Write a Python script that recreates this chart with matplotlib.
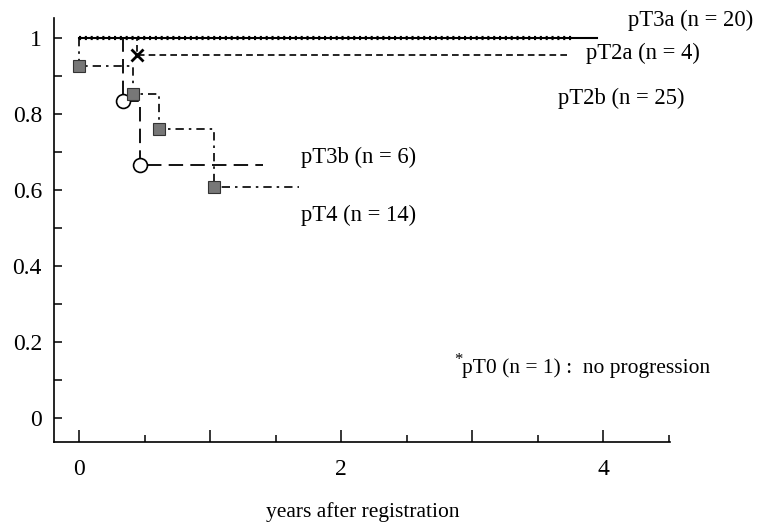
import matplotlib
matplotlib.use("Agg")
import matplotlib.pyplot as plt

plt.rcParams['font.family'] = ['Liberation Serif', 'DejaVu Serif']

# Kaplan-Meier step data (years, progression-free rate)
pT3a_t = [0, 3.95]
pT3a_s = [1.0, 1.0]

pT2b_t = [0, 3.76]
pT2b_s = [1.0, 1.0]

pT2a_t = [0, 0.44, 3.74]
pT2a_s = [1.0, 0.955, 0.955]
pT2a_ev_t = [0.44]
pT2a_ev_s = [0.955]

pT3b_t = [0, 0.33, 0.46, 1.40]
pT3b_s = [1.0, 0.833, 0.667, 0.667]
pT3b_ev_t = [0.33, 0.46]
pT3b_ev_s = [0.833, 0.667]

pT4_t = [0, 0, 0.41, 0.61, 1.03, 1.68]
pT4_s = [1.0, 0.926, 0.853, 0.76, 0.607, 0.607]
pT4_ev_t = [0, 0.41, 0.61, 1.03]
pT4_ev_s = [0.926, 0.853, 0.76, 0.607]

labels = ['pT3a (n = 20)', 'pT2a (n = 4)', 'pT2b (n = 25)', 'pT3b (n = 6)', 'pT4 (n = 14)']
label_x = [4.19, 3.87, 3.65, 1.69, 1.69]
label_y = [1.047, 0.96, 0.842, 0.687, 0.534]

fig = plt.figure(figsize=(7.66, 5.25), dpi=100)
ax = fig.add_axes([0.071, 0.158, 0.804, 0.808])

ax.step(pT3a_t, pT3a_s, where='post', color='black', lw=1.5)
ax.step(pT2b_t, pT2b_s, where='post', color='black', lw=3, ls=(0, (0.5, 0.9)))

ax.step(pT2a_t, pT2a_s, where='post', color='black', lw=1.2, ls=(0, (4, 2.5)))
ax.plot(pT2a_ev_t, pT2a_ev_s, 'x', color='black', ms=8, mew=2)

ax.step(pT3b_t, pT3b_s, where='post', color='black', lw=1.3, ls=(0, (8, 4)))
ax.plot(pT3b_ev_t, pT3b_ev_s, 'o', mfc='white', mec='black', ms=10, mew=1.2)

ax.step(pT4_t, pT4_s, where='post', color='black', lw=1.2, ls=(0, (5, 3, 1.5, 3)))
ax.plot(pT4_ev_t, pT4_ev_s, 's', mfc='#777777', mec='#333333', ms=8, mew=0.8)

for lab, lx, ly in zip(labels, label_x, label_y):
    ax.text(lx, ly, lab, fontsize=16.3, va='center', ha='left')

ax.text(2.86, 0.152, '*', fontsize=12, va='center', ha='left')
ax.text(2.92, 0.132, 'pT0 (n = 1) :  no progression', fontsize=15.5, va='center', ha='left')

ax.set_xlim(-0.19, 4.51)
ax.set_ylim(-0.063, 1.053)

ax.set_xticks([0, 1, 2, 3, 4])
ax.set_xticklabels(['0', '', '2', '', '4'])
ax.set_xticks([0.5, 1.5, 2.5, 3.5, 4.5], minor=True)
ax.set_yticks([0, 0.2, 0.4, 0.6, 0.8, 1.0])
ax.set_yticklabels(['0', '0.2', '0.4', '0.6', '0.8', '1'])
ax.set_yticks([0.1, 0.3, 0.5, 0.7, 0.9], minor=True)

ax.tick_params(axis='x', which='major', direction='in', length=9, width=1.1, pad=12, labelsize=17)
ax.tick_params(axis='x', which='minor', direction='in', length=5, width=1.1)
ax.tick_params(axis='y', which='both', direction='in', length=6, width=1.1, pad=9, labelsize=17)

for s in ['top', 'right']:
    ax.spines[s].set_visible(False)
for s in ['left', 'bottom']:
    ax.spines[s].set_linewidth(1.2)

ax.set_xlabel('years after registration', fontsize=15.5)
ax.xaxis.set_label_coords(0.5, -0.142)
ax.xaxis.label.set_va('top')

fig.savefig('out.png', dpi=100)
